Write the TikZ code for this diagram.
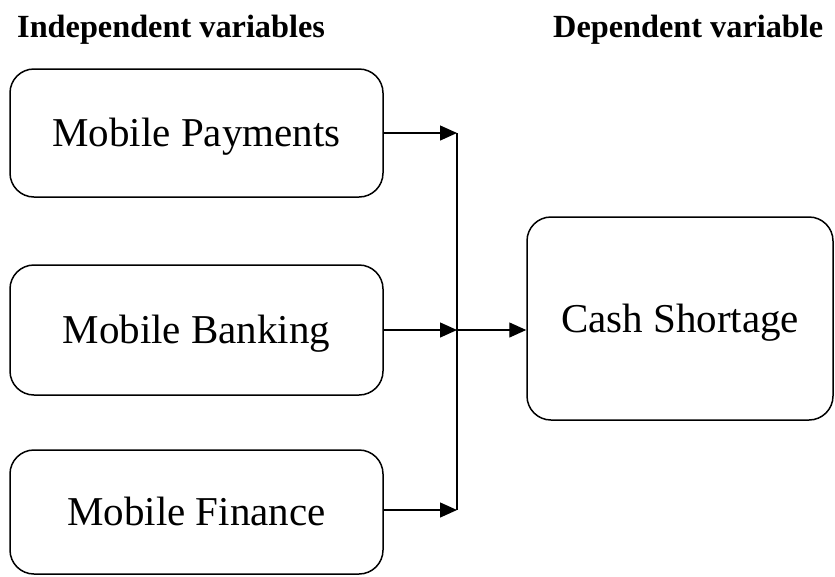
\documentclass[tikz,border=0pt]{standalone}
\usepackage{fontspec}
\setmainfont{Liberation Serif}
\usetikzlibrary{arrows.meta}
\begin{document}
\begin{tikzpicture}[x=1pt,y=1pt,
  varbox/.style={draw, line width=1.5pt, rounded corners=24pt, inner sep=0pt,
    text height=27pt, text depth=0pt,
    font=\fontsize{41}{49}\selectfont},
  heading/.style={anchor=base west, inner sep=0pt, font=\fontsize{32.3}{38}\selectfont\bfseries},
  link/.style={line width=1.3pt, -{Triangle[length=17pt,width=15pt]}},
  bus/.style={line width=2.2pt}]
\useasboundingbox (0,0) rectangle (835,-576);
% headings
\node[heading] (hind) at (17,-37) {Independent variables};
\node[heading] (hdep) at (553,-37) {Dependent variable};
% independent variables
\node[varbox, minimum width=373pt, minimum height=128pt] (pay)  at (196.5,-133) {Mobile Payments};
\node[varbox, minimum width=373pt, minimum height=130pt] (bank) at (196.5,-330) {Mobile Banking};
\node[varbox, minimum width=373pt, minimum height=124pt] (fin)  at (196.5,-512) {Mobile Finance};
% dependent variable
\node[varbox, minimum width=306pt, minimum height=203pt] (cash) at (680,-318.5) {Cash Shortage};
% collecting bus
\coordinate (bustop) at (457,-133);
\coordinate (busbot) at (457,-510);
\draw[bus] (bustop) -- (busbot);
\draw[link] (pay.east) -- (pay.east -| bustop);
\draw[link] (bank.east) -- (bank.east -| bustop);
\draw[link] (fin.east |- busbot) -- (busbot);
\draw[link] (bank.east -| bustop) -- (cash.west |- bank.east);
\end{tikzpicture}
\end{document}
